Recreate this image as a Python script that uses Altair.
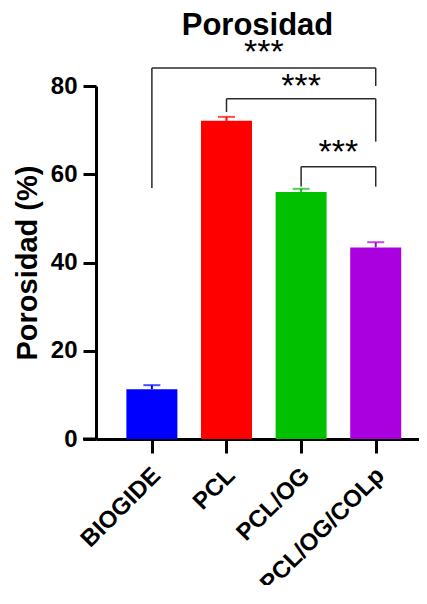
import json
import altair as alt
import pandas as pd

# ---- data ----
categories = ["BIOGIDE", "PCL", "PCL/OG", "PCL/OG/COLp"]
means = [11.3, 72.1, 56.0, 43.4]
sd = [0.9, 0.9, 0.7, 1.2]
colors = ["#0000FF", "#FF0000", "#00C000", "#AA00E0"]

# significance brackets (indices into categories, y values in %)
br_from = [0, 1, 2]
br_to = [3, 3, 3]
br_top = [84.1, 77.1, 61.7]
br_left_bottom = [56.9, 74.1, 57.2]
br_right_bottom = [80.0, 67.4, 57.2]
star_y = [88.7, 80.8, 65.9]
star_text = ["***", "***", "***"]

y_ticks = [0, 20, 40, 60, 80]

FONT = "Liberation Sans"

bars = pd.DataFrame({
    "idx": list(range(len(categories))),
    "cat": categories,
    "mean": means,
    "upper": [m + s for m, s in zip(means, sd)],
})

seg_rows = []
for a, b, t, lb, rb in zip(br_from, br_to, br_top, br_left_bottom, br_right_bottom):
    seg_rows.append({"x": a, "x2": a, "y": lb, "y2": t})
    seg_rows.append({"x": a, "x2": b, "y": t, "y2": t})
    seg_rows.append({"x": b, "x2": b, "y": rb, "y2": t})
segs = pd.DataFrame(seg_rows)

stars = pd.DataFrame({
    "x": [(a + b) / 2 for a, b in zip(br_from, br_to)],
    "y": star_y,
    "t": star_text,
})

xscale = alt.Scale(domain=[-0.682, 3.513], nice=False, zero=False)
yscale = alt.Scale(domain=[0, 80], nice=False)
cscale = alt.Scale(domain=categories, range=colors)

label_expr = json.dumps(categories) + "[datum.value]"

base = alt.Chart(bars)

bar = base.mark_bar(width=51).encode(
    x=alt.X("idx:Q", scale=xscale,
            axis=alt.Axis(values=[0, 1, 2, 3], labelExpr=label_expr, title=None,
                          grid=False, domainWidth=3, domainColor="black",
                          tickWidth=3, tickSize=14, tickColor="black",
                          labelAngle=-45, labelAlign="right", labelBaseline="top",
                          labelFont=FONT, labelFontSize=24, labelFontWeight="bold",
                          labelColor="black", labelPadding=10, labelOffset=-4,
                          labelOverlap=False, labelFlush=False)),
    y=alt.Y("mean:Q", scale=yscale,
            axis=alt.Axis(values=y_ticks, title="Porosidad (%)", grid=False,
                          domainWidth=3, domainColor="black", tickWidth=3,
                          tickSize=13, tickColor="black", labelFont=FONT,
                          labelFontSize=24, labelFontWeight="bold", labelColor="black",
                          labelPadding=6, titleFont=FONT, titleFontSize=29,
                          titleFontWeight="bold", titleColor="black", titlePadding=8)),
    color=alt.Color("cat:N", scale=cscale, legend=None),
)

err = base.mark_rule(strokeWidth=2).encode(
    x="idx:Q", y="mean:Q", y2="upper:Q",
    color=alt.Color("cat:N", scale=cscale, legend=None),
)

cap = base.mark_tick(orient="horizontal", size=17, thickness=2).encode(
    x="idx:Q", y="upper:Q",
    color=alt.Color("cat:N", scale=cscale, legend=None),
)

xline = alt.Chart(pd.DataFrame({"v": [0]})).mark_rule(strokeWidth=3, color="black").encode(
    x=alt.value(-13), x2=alt.value(0), y=alt.Y("v:Q", scale=yscale)
)

brackets = alt.Chart(segs).mark_rule(strokeWidth=1.5, color="#2a2a2a").encode(
    x="x:Q", x2="x2:Q", y="y:Q", y2="y2:Q"
)

star_marks = alt.Chart(stars).mark_text(
    font=FONT, fontSize=34, baseline="alphabetic", dy=15, color="black"
).encode(x="x:Q", y="y:Q", text="t:N")

chart = alt.layer(bar, err, cap, xline, brackets, star_marks).properties(
    width=323,
    height=353,
    autosize=alt.AutoSizeParams(type="none"),
    padding={"left": 88, "top": 78, "right": 0, "bottom": 146},
    title=alt.TitleParams("Porosidad", font=FONT, fontSize=31, fontWeight="bold",
                          color="black", anchor="middle", frame="group", offset=-6),
).configure_view(stroke=None)

chart.save("out.html", embed_options={"renderer": "svg", "actions": False})
